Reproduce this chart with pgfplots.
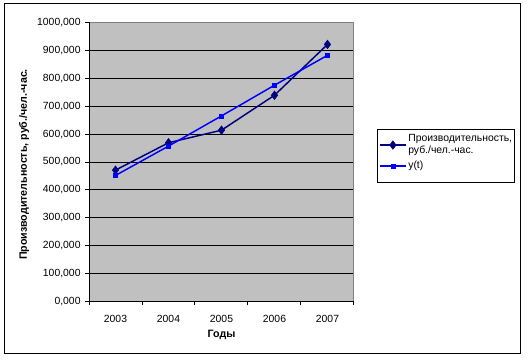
\documentclass[border=0pt]{standalone}
\usepackage{pgfplots}
\pgfplotsset{compat=1.18}
\usepackage{fontspec}
\setmainfont{Liberation Sans}
\definecolor{navyS}{RGB}{0,0,128}
\definecolor{blueS}{RGB}{0,0,255}
\definecolor{plotgray}{RGB}{192,192,192}
\begin{document}
\begin{tikzpicture}
\useasboundingbox (0pt,0pt) rectangle (396pt,270pt);
\draw[black, line width=0.75pt] (3pt,4.5pt) rectangle (390pt,267pt);
\begin{axis}[
  at={(66.75pt,43.7pt)}, anchor=south west, scale only axis,
  width=198.75pt, height=209.55pt,
  xmin=0.5, xmax=5.5, ymin=0, ymax=1000,
  xtick={1,2,3,4,5}, xticklabels={2003,2004,2005,2006,2007},
  minor xtick={0.5,1.5,2.5,3.5,4.5,5.5},
  ytick={0,100,...,1000},
  tick pos=left, tick align=outside,
  major tick length=2.8pt, minor tick length=2.8pt,
  x tick style={draw=none}, minor x tick style={draw=black, line width=0.75pt},
  y tick style={black, line width=0.75pt},
  xticklabel style={yshift=-4pt},
  ymajorgrids, major grid style={black, line width=0.75pt},
  axis line style={draw=gray, line width=0.75pt},
  axis background/.style={fill=plotgray},
  scaled y ticks=false,
  /pgf/number format/assume math mode=true,
  yticklabel style={/pgf/number format/.cd, fixed, fixed zerofill, precision=3, use comma, 1000 sep={}},
  font=\fontsize{7.8}{9.4}\selectfont,
  ticklabel style={font=\fontsize{7.8}{9.4}\selectfont},
  ylabel={\bfseries Производительность, руб./чел.-час.},
  ylabel style={at={(axis description cs:-0.245,0.491)}, anchor=center, font=\fontsize{8}{9.4}\selectfont},
  xlabel={\bfseries Годы},
  xlabel style={at={(axis description cs:0.5,-0.118)}, anchor=center, font=\fontsize{8}{9.4}\selectfont},
  legend style={at={(1.0868,0.618)}, anchor=north west, draw=black, line width=0.75pt, fill=white,
    font=\fontsize{7.8}{9.4}\selectfont, cells={align=left}, inner xsep=1pt, inner ysep=2pt, row sep=1pt,
    nodes={inner xsep=1pt, inner ysep=1.5pt}},
  legend cell align=left,
  legend image code/.code={\draw[#1, mark=none] (0pt,0pt) -- (20pt,0pt);
    \draw[#1, only marks] plot coordinates {(10pt,0pt)};},
]
\addplot[navyS, line width=1.1pt, mark=diamond*, mark size=3.2pt, mark options={solid, line width=0.4pt}]
  coordinates {(1,471) (2,569) (3,614) (4,739) (5,921)};
\addlegendentry{Производительность,\\руб./чел.-час.}
\addplot[blueS, line width=1.1pt, mark=square*, mark size=1.6pt, mark options={solid, line width=0.4pt}]
  coordinates {(1,452) (2,557) (3,665) (4,775) (5,882)};
\addlegendentry{y(t)}
\addlegendimage{empty legend}
\addlegendentry{}
\draw[black, line width=0.75pt] (rel axis cs:0,1) -- (rel axis cs:0,0) -- (rel axis cs:1,0);
\end{axis}
\end{tikzpicture}
\end{document}
